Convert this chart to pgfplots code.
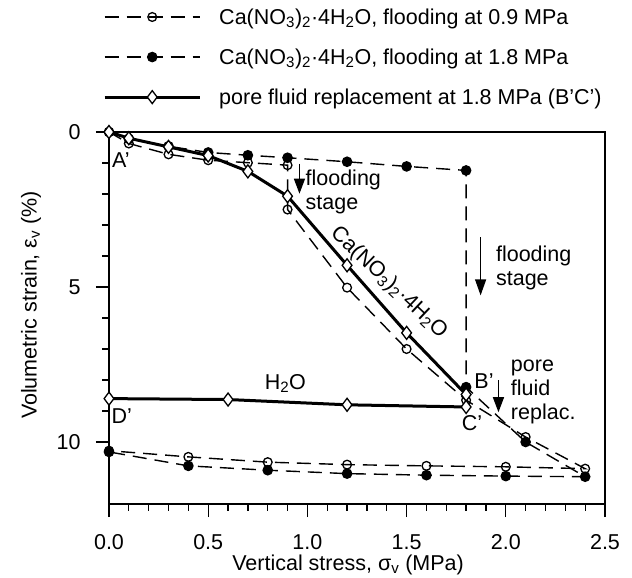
\documentclass[border=0pt]{standalone}
\usepackage{fontspec}
\setmainfont{Liberation Sans}
\usepackage{pgfplots}
\pgfplotsset{compat=1.18}
\usetikzlibrary{arrows.meta}

\newcommand{\fs}{\fontsize{21.5bp}{24bp}\selectfont}
\newcommand{\cano}{Ca(NO\textsubscript{3})\textsubscript{2}·4H\textsubscript{2}O}

\begin{document}
\begin{tikzpicture}[font=\fs]
\path[use as bounding box] (-109bp,-74bp) rectangle (523bp,504bp);
\begin{axis}[
  at={(0,0)}, anchor=south west,
  scale only axis, width=496bp, height=372bp,
  xmin=0, xmax=2.5, ymin=0, ymax=12,
  y dir=reverse,
  clip=false,
  axis line style={line width=1.3bp},
  xtick={0,0.5,...,2.5}, ytick={0,5,10},
  minor x tick num=4, minor y tick num=4,
  tick align=outside, xtick pos=left, ytick pos=left,
  major tick length=13bp, minor tick length=6.5bp,
  every tick/.append style={black, line width=1.3bp},
  xticklabel style={yshift=-14bp, /pgf/number format/.cd, fixed, fixed zerofill, precision=1},
  yticklabel style={xshift=-12bp},
  /pgf/number format/assume math mode=true,
  tick label style={font=\fs},
  xlabel={Vertical stress, σ\textsubscript{v} (MPa)},
  ylabel={Volumetric strain, ε\textsubscript{v} (\%)},
  xlabel style={at={(axis description cs:0.482,-0.164)}, anchor=center},
  ylabel style={at={(axis description cs:-0.157,0.535)}, anchor=center},
  legend style={at={(axis description cs:-0.012,1.338)}, anchor=north west,
    draw=none, fill=none, inner sep=0pt, row sep=19bp,
    cells={anchor=west}, font=\fs,
    /tikz/every odd column/.append style={column sep=16bp}},
  legend image code/.code={\draw[mark repeat=2,mark phase=2,#1]
    plot coordinates {(0bp,0bp) (47.5bp,0bp) (95bp,0bp)};},
]
% flooding at 0.9 MPa
\addplot[black, line width=1.4bp, dash pattern=on 14bp off 8bp,
  mark=o, mark size=4.4bp, mark options={solid, line width=1.3bp}] coordinates {
  (0,0) (0.1,0.37) (0.3,0.72) (0.5,0.91) (0.7,0.99) (0.9,1.07)
  (0.9,2.5) (1.2,5.02) (1.5,7.0) (1.8,8.65) (2.1,9.84) (2.4,10.86)
  (2.0,10.8) (1.6,10.77) (1.2,10.73) (0.8,10.65) (0.4,10.48) (0,10.28)
};
\addlegendentry{\cano, flooding at 0.9 MPa}
% flooding at 1.8 MPa
\addplot[black, line width=1.4bp, dash pattern=on 14bp off 8bp,
  mark=*, mark size=4.6bp, mark options={solid}] coordinates {
  (0,0) (0.1,0.22) (0.3,0.46) (0.5,0.66) (0.7,0.75) (0.9,0.83)
  (1.2,0.96) (1.5,1.11) (1.8,1.24) (1.8,8.23) (2.1,10.0) (2.4,11.12)
  (2.0,11.1) (1.6,11.07) (1.2,11.02) (0.8,10.91) (0.4,10.77) (0,10.32)
};
\addlegendentry{\cano, flooding at 1.8 MPa}
% pore fluid replacement
\addplot[black, line width=3bp,
  mark=diamond*, mark size=6.5bp, mark options={solid, fill=white, line width=1.3bp}] coordinates {
  (0,0) (0.1,0.2) (0.3,0.48) (0.5,0.76) (0.7,1.27) (0.9,2.07)
  (1.2,4.3) (1.5,6.48) (1.8,8.47) (1.8,8.87) (1.2,8.8) (0.6,8.63) (0,8.6)
};
\addlegendentry{pore fluid replacement at 1.8 MPa (B'C')}

\node at (axis cs:0.06,0.91) {A'};
\node at (axis cs:0.064,9.15) {D'};
\node at (axis cs:1.89,8.02) {B'};
\node at (axis cs:1.83,9.4) {C'};
\node at (axis cs:0.889,8.12) {H\textsubscript{2}O};
\node[rotate=-43.5] at (axis cs:1.41,4.86) {\cano};
\node[anchor=west, align=left, inner sep=0pt] at (axis cs:0.99,1.935) {flooding\\stage};
\node[anchor=west, align=left, inner sep=0pt] at (axis cs:1.95,4.38) {flooding\\stage};
\node[anchor=west, align=left, inner sep=0pt] at (axis cs:2.025,8.38) {pore\\fluid\\replac.};
\draw[line width=1.3bp, -{Triangle[length=15bp,width=11bp]}] (axis cs:0.96,1.02) -- (axis cs:0.96,1.99);
\draw[line width=1.3bp, -{Triangle[length=16bp,width=11bp]}] (axis cs:1.873,3.39) -- (axis cs:1.873,5.27);
\draw[line width=1.3bp, -{Triangle[length=15bp,width=11bp]}] (axis cs:1.963,8.0) -- (axis cs:1.963,9.04);
\end{axis}
\end{tikzpicture}
\end{document}
